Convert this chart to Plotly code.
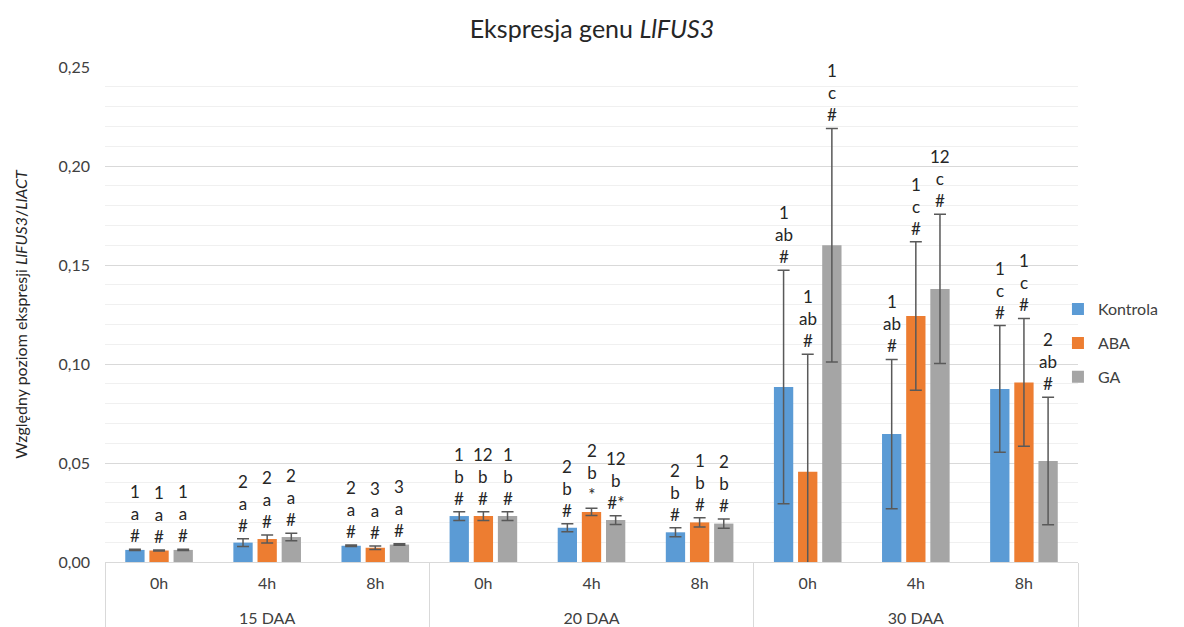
import plotly.graph_objects as go

# Category levels: sampling stage (DAA) and hour after treatment
periods = ["15 DAA"] * 3 + ["20 DAA"] * 3 + ["30 DAA"] * 3
hours = ["0h", "4h", "8h"] * 3

# Relative expression LlFUS3/LlACT (mean) and error
kontrola = [0.0061, 0.0098, 0.0082, 0.0232, 0.0173, 0.0150, 0.0884, 0.0646, 0.0874]
kontrola_err = [0.0003, 0.0020, 0.0004, 0.0022, 0.0020, 0.0023, 0.0590, 0.0377, 0.0320]
aba = [0.0058, 0.0116, 0.0072, 0.0232, 0.0253, 0.0200, 0.0456, 0.1242, 0.0907]
aba_err = [0.0003, 0.0020, 0.0009, 0.0022, 0.0018, 0.0023, 0.0593, 0.0375, 0.0323]
ga = [0.0061, 0.0126, 0.0088, 0.0232, 0.0212, 0.0194, 0.1600, 0.1379, 0.0510]
ga_err = [0.0003, 0.0019, 0.0004, 0.0022, 0.0022, 0.0023, 0.0590, 0.0377, 0.0322]

# Significance marks shown above each bar (top to bottom)
kontrola_marks = ["1 a #", "2 a #", "2 a #", "1 b #", "2 b #", "2 b #", "1 ab #", "1 ab #", "1 c #"]
aba_marks = ["1 a #", "2 a #", "3 a #", "12 b #", "2 b *", "1 b #", "1 ab #", "1 c #", "1 c #"]
ga_marks = ["1 a #", "2 a #", "3 a #", "1 b #", "12 b #*", "2 b #", "1 c #", "12 c #", "2 ab #"]

series = [
    ("Kontrola", kontrola, kontrola_err, kontrola_marks, "#5B9BD5"),
    ("ABA", aba, aba_err, aba_marks, "#ED7D31"),
    ("GA", ga, ga_err, ga_marks, "#A5A5A5"),
]

FONT = "Lato, 'Open Sans', sans-serif"
BARGAP = 0.33
BARGROUPGAP = 0.2

# outer level is pushed one line lower so it sits under the hour labels
period_labels = ["<br>" + p for p in periods]

fig = go.Figure()
for name, vals, errs, _, color in series:
    fig.add_trace(go.Bar(
        name=name,
        legendgroup=name,
        x=[period_labels, hours],
        y=vals,
        marker=dict(color=color, line=dict(width=0)),
        error_y=dict(type="data", array=errs, visible=True,
                     color="#595959", thickness=1.5, width=6),
    ))

# Stacked significance labels sit just above the upper error bar
slot = (1 - BARGAP) / len(series)
for k, (name, vals, errs, marks, color) in enumerate(series):
    offset = (k - (len(series) - 1) / 2) * slot
    for i, (v, e, m) in enumerate(zip(vals, errs, marks)):
        fig.add_annotation(
            x=i + offset, y=v + e, xref="x", yref="y",
            text="<br>".join(m.split(" ")),
            showarrow=False, yanchor="bottom", xanchor="center",
            yshift=1, font=dict(family=FONT, size=17, color="#262626"),
        )

fig.update_layout(
    width=1184, height=627,
    margin=dict(l=105, r=106, t=67, b=65, autoexpand=False),
    paper_bgcolor="white", plot_bgcolor="white",
    separators=",.",
    barmode="group", bargap=BARGAP, bargroupgap=BARGROUPGAP,
    font=dict(family=FONT, size=16, color="#404040"),
    title=dict(text="Ekspresja genu <i>LlFUS3</i>", x=0.5, xanchor="center",
               y=1 - 29 / 627, yanchor="middle",
               font=dict(family=FONT, size=25, color="#262626")),
    legend=dict(x=0.9794, y=0.442, xanchor="left", yanchor="middle",
                bgcolor="rgba(0,0,0,0)",
                font=dict(family=FONT, size=16, color="#404040"),
                itemwidth=30, traceorder="grouped", tracegroupgap=10),
    showlegend=True,
)

fig.update_xaxes(
    type="multicategory",
    showline=True, linecolor="#d9d9d9", linewidth=1,
    showdividers=True, dividercolor="#d9d9d9", dividerwidth=1,
    tickfont=dict(family=FONT, size=16, color="#404040"),
    ticks="", ticklabelstandoff=7,
)

fig.update_yaxes(
    range=[0, 0.25], dtick=0.05, tickformat=".2f",
    showgrid=True, gridcolor="#d9d9d9", gridwidth=1,
    minor=dict(dtick=0.01, showgrid=True, gridcolor="#f0f0f0", gridwidth=1),
    zeroline=False, showline=False,
    ticklabelstandoff=14,
    tickfont=dict(family=FONT, size=16, color="#404040"),
    title=dict(text="Względny poziom ekspresji <i>LlFUS3</i>/<i>LlACT</i>",
               font=dict(family=FONT, size=16, color="#262626"), standoff=26),
)

fig.write_html("out.html")
